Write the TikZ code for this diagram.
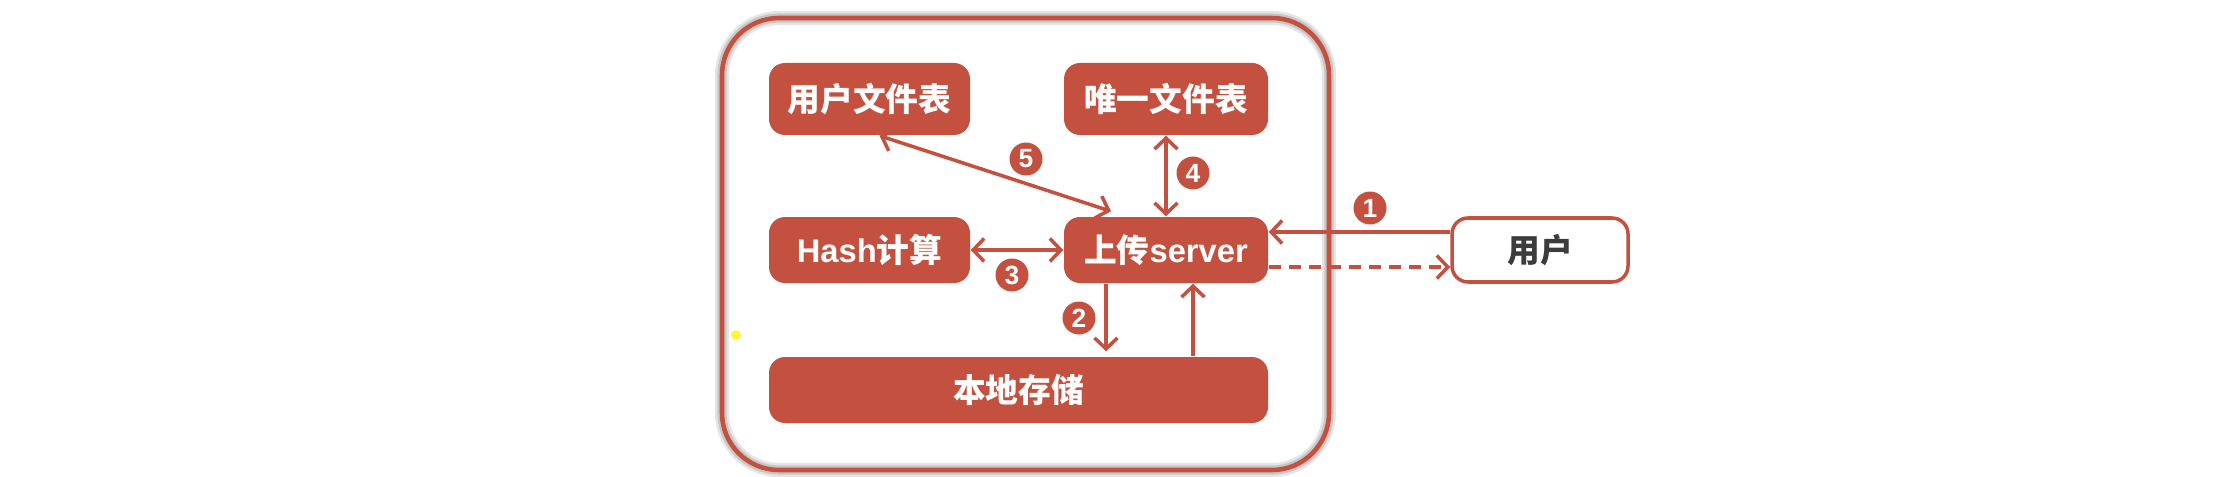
\documentclass[tikz,border=0pt]{standalone}
\usepackage{fontspec}
\setmainfont{Liberation Sans}
\newfontfamily\cjk{Noto Sans CJK SC}
\usetikzlibrary{arrows.meta}
\definecolor{brick}{RGB}{196,81,64}
\definecolor{ink}{RGB}{60,60,60}
\begin{document}
\begin{tikzpicture}[
  >={Straight Barb[length=1.1mm,width=2.3mm]},
  host/.style={draw=brick, line width=1.3pt, rounded corners=5.7mm,
    preaction={draw=black!10, line width=4pt},
    preaction={draw=black!22, line width=2.6pt}},
  box/.style={fill=brick, rounded corners=1.6mm, text=white, inner sep=0pt,
    font=\cjk\bfseries\fontsize{9.3}{11}\selectfont},
  num/.style={circle, fill=brick, text=white, minimum size=3.3mm, inner sep=0pt,
    font=\bfseries\fontsize{7.5}{8}\selectfont},
  link/.style={draw=brick, line width=1pt}]
  \useasboundingbox (0,0) rectangle (22.4,4.76);
  \node[host, minimum width=6.07cm, minimum height=4.52cm] (frame) at (10.255,2.32) {};
  \node[box, minimum width=2.01cm, minimum height=0.72cm] (ufile) at (8.695,3.77) {用户文件表};
  \node[box, minimum width=2.04cm, minimum height=0.72cm] (uniq) at (11.66,3.77) {唯一文件表};
  \node[box, minimum width=2.01cm, minimum height=0.66cm] (hash) at (8.695,2.26) {{\rmfamily\bfseries Hash}计算};
  \node[box, minimum width=2.04cm, minimum height=0.66cm] (server) at (11.66,2.26) {上传{\rmfamily\bfseries server}};
  \node[box, minimum width=4.99cm, minimum height=0.66cm] (store) at (10.185,0.86) {本地存储};
  \node[box, fill=white, draw=brick, line width=1pt, text=ink,
    minimum width=1.76cm, minimum height=0.64cm] (user) at (15.40,2.26) {用户};
  \coordinate (down) at ([xshift=-6mm]server.south);
  \coordinate (up) at ([xshift=2.7mm]server.south);
  \draw[link, ->] ([yshift=1.8mm]user.west) -- ([yshift=1.8mm]server.east);
  \draw[link, ->, dash pattern=on 1.2mm off 0.8mm] ([yshift=-1.7mm]server.east) -- ([yshift=-1.7mm]user.west);
  \draw[link, ->, shorten >=0.5mm] (down) -- (down |- store.north);
  \draw[link, <->] (hash.east) -- (server.west);
  \draw[link, <->] (uniq.south) -- (server.north);
  \draw[link, <->] ([xshift=1mm]ufile.south) -- ([xshift=-5.5mm,yshift=0.5mm]server.north);
  \draw[link, ->] (up |- store.north) -- (up);
  \node[num] (n1) at (13.70,2.68) {1};
  \node[num] (n2) at (10.79,1.58) {2};
  \node[num] (n3) at (10.12,2.01) {3};
  \node[num] (n4) at (11.93,3.03) {4};
  \node[num] (n5) at (10.26,3.17) {5};
  \fill[yellow!75!white] (7.36,1.41) circle (0.05);
\end{tikzpicture}
\end{document}
